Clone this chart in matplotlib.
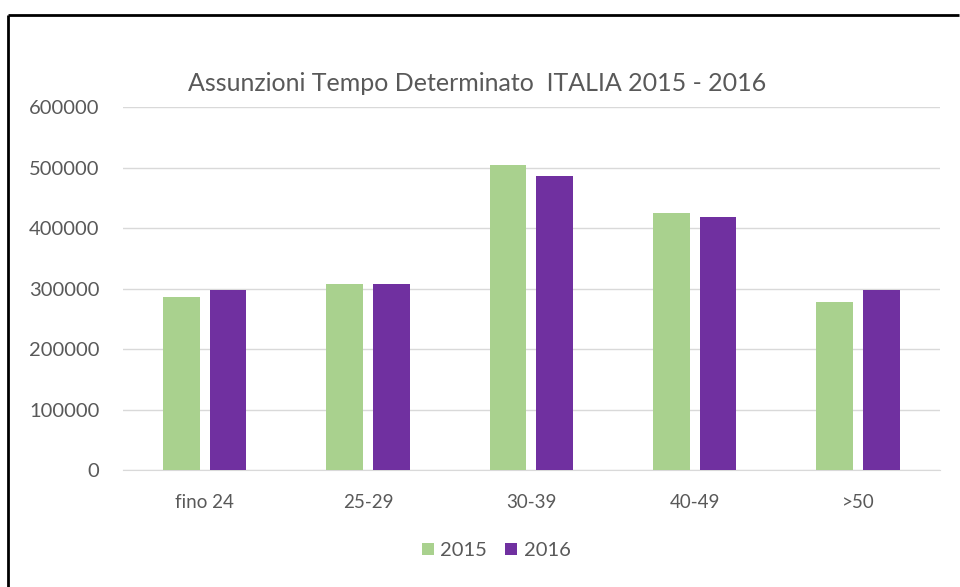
import numpy as np
import matplotlib
matplotlib.use("Agg")
import matplotlib.pyplot as plt
from matplotlib.lines import Line2D

# data
categories = ["fino 24", "25-29", "30-39", "40-49", ">50"]
values_2015 = [286000, 308000, 504000, 424000, 278000]
values_2016 = [297000, 308000, 486000, 419000, 297000]
series_labels = ["2015", "2016"]
yticks = [0, 100000, 200000, 300000, 400000, 500000, 600000]

green = "#A9D18E"
purple = "#7030A0"
text_col = "#595959"

plt.rcParams["font.family"] = ["Lato", "DejaVu Sans"]

fig = plt.figure(figsize=(9.6, 5.87), dpi=100)
ax = fig.add_axes([0.128, 0.1993, 0.851, 0.6184])

x = np.arange(len(categories))
w = 0.224
ax.bar(x - 0.143, values_2015, w, color=green, label=series_labels[0], zorder=3)
ax.bar(x + 0.143, values_2016, w, color=purple, label=series_labels[1], zorder=3)

ax.set_xlim(-0.5, len(categories) - 0.5)
ax.set_ylim(0, 600000)
ax.set_yticks(yticks)
ax.set_yticklabels([str(v) for v in yticks])
ax.set_xticks(x)
ax.set_xticklabels(categories)
ax.grid(axis="y", color="#D9D9D9", linewidth=1, zorder=0)
for s in ["top", "right", "left"]:
    ax.spines[s].set_visible(False)
ax.spines["bottom"].set_color("#D9D9D9")
ax.tick_params(axis="both", length=0, colors=text_col)
ax.tick_params(axis="y", pad=17, labelsize=14.5)
ax.tick_params(axis="x", pad=17, labelsize=13.5)

fig.text(0.497, 0.858, "Assunzioni Tempo Determinato  ITALIA 2015 - 2016",
         ha="center", va="center", fontsize=18, color=text_col)

fig.legend(loc="center", bbox_to_anchor=(0.517, 0.062), ncol=2, frameon=False,
           fontsize=14.5, labelcolor=text_col, handlelength=0.6, handleheight=0.6,
           handletextpad=0.3, columnspacing=0.9)

# black frame of the screenshot (left and top edges only)
fig.add_artist(Line2D([0.0085, 0.0085], [0, 0.975], transform=fig.transFigure,
                      color="black", linewidth=2, solid_capstyle="butt"))
fig.add_artist(Line2D([0.0085, 0.999], [0.975, 0.975], transform=fig.transFigure,
                      color="black", linewidth=2, solid_capstyle="butt"))

fig.savefig("out.png", dpi=100)
